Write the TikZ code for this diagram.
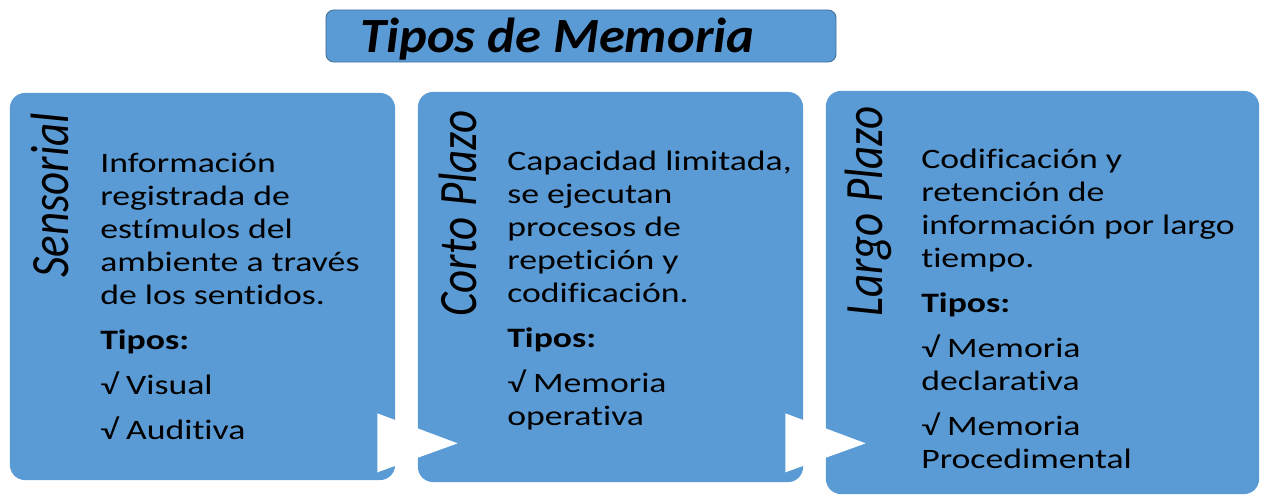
\documentclass[tikz,border=0pt]{standalone}
\usepackage{fontspec}
\setmainfont{Carlito}[Ligatures=NoCommon]
\newfontfamily\cuerpo{Carlito}[FakeStretch=1.27, Ligatures=NoCommon]
\newfontfamily\titulofont{Carlito}[FakeStretch=1.07, Ligatures=NoCommon]
\usetikzlibrary{positioning,calc}
\definecolor{azul}{HTML}{5B9BD5}
\definecolor{azulborde}{HTML}{41719C}
\tikzset{
  caja/.style={fill=azul, rounded corners=0.375cm, inner sep=0},
  texto/.style={anchor=base west, inner sep=0, font=\cuerpo\fontsize{20}{23.5}\selectfont},
  etiqueta/.style={rotate=90, yscale=1.2, anchor=base west, inner sep=0, font=\itshape\fontsize{32}{36}\selectfont},
  flecha/.style={fill=white}
}
\newcommand{\lineas}[1]{\begin{tabular}[t]{@{}l@{}}#1\end{tabular}}

\begin{document}
\begin{tikzpicture}[x=0.025cm, y=-0.025cm]
\useasboundingbox (0,0) rectangle (1264,495);

% titulo
\node[caja, draw=azulborde, line width=0.6pt, rounded corners=0.2cm, minimum width=12.75cm, minimum height=1.3cm] (titulo) at (581,36) {};
\node[anchor=base west, inner sep=0, font=\titulofont\bfseries\itshape\fontsize{35}{40}\selectfont] (titulotxt) at (360,52) {Tipos de Memoria};

% cajas
\node[caja, minimum width=9.625cm, minimum height=9.675cm] (sens) at (202.5,286.5) {};
\node[caja, minimum width=9.625cm, minimum height=9.75cm] (corto) at (610.5,287) {};
\node[caja, minimum width=10.825cm, minimum height=10.075cm] (largo) at (1042.5,292.5) {};

% flechas
\fill[flecha] ($(sens.south east)+(-18,-67)$) -- ($(corto.south west)+(40,-39)$) -- ($(sens.south east)+(-18,-8)$) -- cycle;
\fill[flecha] ($(corto.south east)+(-18,-69)$) -- ($(largo.south west)+(40,-51)$) -- ($(corto.south east)+(-18,-10)$) -- cycle;

% etiquetas
\node[etiqueta] (sensl) at (68,278) {Sensorial};
\node[etiqueta] (cortol) at (476,317) {Corto Plazo};
\node[etiqueta] (largol) at (882,317) {Largo Plazo};

% textos
\node[texto] (senst) at (100,172) {\lineas{Información\\ registrada de\\ estímulos del\\ ambiente a través\\ de los sentidos.\\[8.5pt]
  \textbf{Tipos:}\\[8.5pt] √ Visual\\[8.5pt] √ Auditiva}};
\node[texto] (cortot) at (507,170) {\lineas{Capacidad limitada,\\ se ejecutan\\ procesos de\\ repetición y\\ codificación.\\[8.5pt]
  \textbf{Tipos:}\\[8.5pt] √ Memoria\\ operativa}};
\node[texto] (largot) at (921,168) {\lineas{Codificación y\\ retención de\\ información por largo\\ tiempo.\\[8.5pt]
  \textbf{Tipos:}\\[8.5pt] √ Memoria\\ declarativa\\[8.5pt] √ Memoria\\ Procedimental}};
\end{tikzpicture}
\end{document}
